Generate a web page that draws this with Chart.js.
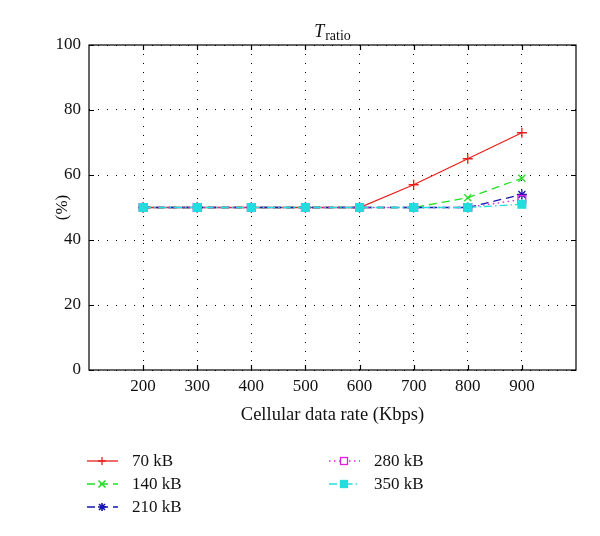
<!DOCTYPE html>
<html>
<head>
<meta charset="utf-8">
<script src="https://cdn.jsdelivr.net/npm/chart.js@4"></script>
<style>
  html, body { margin:0; padding:0; background:#fff; }
  #wrap { position:relative; width:600px; height:536px; }
  #c { position:absolute; left:0; top:0; }
  .leg { position:absolute; font-family:"Liberation Serif","DejaVu Serif",serif; font-size:17px; color:#111; display:flex; align-items:center; height:20px; }
  .leg svg { margin-right:13px; }
</style>
</head>
<body>
<div id="wrap">
<canvas id="c" width="600" height="536"></canvas>
<div id="legend"></div>
</div>
<script>
// ---- data ----
const xValues = [200, 300, 400, 500, 600, 700, 800, 900];
const xTickLabels = ['200','300','400','500','600','700','800','900'];
const yTickValues = [0, 20, 40, 60, 80, 100];
const seriesNames = ['70 kB', '140 kB', '210 kB', '280 kB', '350 kB'];
const s70  = [50, 50, 50, 50, 50, 57, 65, 73];
const s140 = [50, 50, 50, 50, 50, 50, 53, 59];
const s210 = [50, 50, 50, 50, 50, 50, 50, 54];
const s280 = [50, 50, 50, 50, 50, 50, 50, 52.5];
const s350 = [50, 50, 50, 50, 50, 50, 50, 51];
const xTitle = 'Cellular data rate (Kbps)';
const yTitle = '(%)';

const serif = '"Liberation Serif","DejaVu Serif",serif';

function pts(arr){ return arr.map((v,i)=>({x:xValues[i], y:v})); }

const styles = [
  {color:'#e8201c', dash:[], ps:'cross', r:5, bg:'#e8201c', order:5},
  {color:'#22dd22', dash:[8,5], ps:'crossRot', r:5, bg:'#22dd22', order:4},
  {color:'#1515b0', dash:[8,5], ps:'star', r:5, bg:'#1515b0', order:3},
  {color:'#dd22dd', dash:[1.5,3.5], ps:'rect', r:5.5, bg:'rgba(0,0,0,0)', order:2},
  {color:'#22dddd', dash:[8,3,1.5,3], ps:'rect', r:5.5, bg:'#22dddd', order:1}
];
const allSeries = [s70, s140, s210, s280, s350];

const datasets = allSeries.map((s,i)=>({
  label: seriesNames[i],
  data: pts(s),
  borderColor: styles[i].color,
  backgroundColor: styles[i].bg,
  borderWidth: 1.3,
  borderDash: styles[i].dash,
  pointStyle: styles[i].ps,
  pointRadius: styles[i].r,
  pointBorderColor: styles[i].color,
  pointBackgroundColor: styles[i].bg,
  pointBorderWidth: 1.3,
  tension: 0,
  order: styles[i].order
}));

const framePlugin = {
  id:'frame',
  afterDraw(chart){
    const {ctx, chartArea:a, scales} = chart;
    ctx.save();
    ctx.strokeStyle = '#000';
    ctx.lineWidth = 1.2;
    ctx.setLineDash([]);
    ctx.strokeRect(a.left, a.top, a.right-a.left, a.bottom-a.top);
    const tl = 5;
    ctx.beginPath();
    xValues.forEach(v=>{
      const px = Math.round(scales.x.getPixelForValue(v))+0.5;
      ctx.moveTo(px, a.bottom); ctx.lineTo(px, a.bottom-tl);
      ctx.moveTo(px, a.top); ctx.lineTo(px, a.top+tl);
    });
    yTickValues.forEach(v=>{
      const py = Math.round(scales.y.getPixelForValue(v))+0.5;
      ctx.moveTo(a.left, py); ctx.lineTo(a.left+tl, py);
      ctx.moveTo(a.right, py); ctx.lineTo(a.right-tl, py);
    });
    ctx.stroke();
    // title T_ratio
    const cx = (a.left + a.right)/2;
    ctx.fillStyle = '#111';
    ctx.textBaseline = 'alphabetic';
    ctx.font = 'italic 18px ' + serif;
    const wT = ctx.measureText('T').width;
    ctx.font = '14px ' + serif;
    const wR = ctx.measureText('ratio').width;
    const x0 = cx - (wT + 1 + wR)/2;
    ctx.font = 'italic 18px ' + serif;
    ctx.textAlign = 'left';
    ctx.fillText('T', x0, 37);
    ctx.font = '14px ' + serif;
    ctx.fillText('ratio', x0 + wT + 1, 40);
    // y title
    ctx.save();
    ctx.translate(63, (a.top + a.bottom)/2);
    ctx.rotate(-Math.PI/2);
    ctx.textAlign = 'center';
    ctx.textBaseline = 'middle';
    ctx.font = '17px ' + serif;
    ctx.fillText(yTitle, 0, 0);
    ctx.restore();
    ctx.restore();
  }
};

new Chart(document.getElementById('c'), {
  type:'line',
  data:{ datasets },
  options:{
    responsive:false,
    animation:false,
    layout:{ padding:{ left:0, right:24, top:45, bottom:106 } },
    plugins:{ legend:{display:false}, tooltip:{enabled:false}, title:{display:false} },
    scales:{
      x:{
        type:'linear', min:100, max:1000,
        afterBuildTicks(scale){ scale.ticks = xValues.map(v=>({value:v})); },
        afterFit(scale){ scale.height = 60; },
        ticks:{ font:{family:serif, size:17}, color:'#111', padding:6,
          callback:(v)=>{ const i = xValues.indexOf(v); return i>=0 ? xTickLabels[i] : ''; } },
        grid:{ color:'#000', lineWidth:1, drawTicks:false, tickLength:0 },
        border:{ display:false, dash:[1,8] },
        title:{ display:true, text:xTitle, font:{family:serif, size:18.5}, color:'#111', padding:{top:3} }
      },
      y:{
        type:'linear', min:0, max:100,
        afterBuildTicks(scale){ scale.ticks = yTickValues.map(v=>({value:v})); },
        afterFit(scale){ scale.width = 89; },
        ticks:{ font:{family:serif, size:17}, color:'#111', padding:8 },
        grid:{ color:'#000', lineWidth:1, drawTicks:false, tickLength:0 },
        border:{ display:false, dash:[1,8] },
        title:{ display:false }
      }
    }
  },
  plugins:[framePlugin]
});

// ---- HTML legend ----
const legPos = [
  {x:86, y:451}, {x:86, y:474}, {x:86, y:497},
  {x:328, y:451}, {x:328, y:474}
];
function markerSvg(i){
  const st = styles[i];
  const c = st.color;
  let m = '';
  const cx = 16, cy = 10;
  if (st.ps === 'cross') m = `<path d="M${cx-4} ${cy}H${cx+4}M${cx} ${cy-4}V${cy+4}" stroke="${c}" stroke-width="1.3"/>`;
  else if (st.ps === 'crossRot') m = `<path d="M${cx-3.5} ${cy-3.5}L${cx+3.5} ${cy+3.5}M${cx-3.5} ${cy+3.5}L${cx+3.5} ${cy-3.5}" stroke="${c}" stroke-width="1.6"/>`;
  else if (st.ps === 'star') m = `<path d="M${cx-4} ${cy}H${cx+4}M${cx} ${cy-4}V${cy+4}M${cx-3} ${cy-3}L${cx+3} ${cy+3}M${cx-3} ${cy+3}L${cx+3} ${cy-3}" stroke="${c}" stroke-width="1.6"/>`;
  else m = `<rect x="${cx-3.5}" y="${cy-3.5}" width="7" height="7" stroke="${c}" stroke-width="1.3" fill="${st.bg==='rgba(0,0,0,0)'?'#fff':st.bg}"/>`;
  const da = st.dash.length ? `stroke-dasharray="${st.dash.join(' ')}"` : '';
  return `<svg width="33" height="20"><line x1="1" y1="10" x2="32" y2="10" stroke="${c}" stroke-width="1.3" ${da}/>${m}</svg>`;
}
const legEl = document.getElementById('legend');
seriesNames.forEach((n,i)=>{
  const d = document.createElement('div');
  d.className = 'leg';
  d.style.left = legPos[i].x + 'px';
  d.style.top = legPos[i].y + 'px';
  d.innerHTML = markerSvg(i) + '<span>' + n + '</span>';
  legEl.appendChild(d);
});
</script>
</body>
</html>
